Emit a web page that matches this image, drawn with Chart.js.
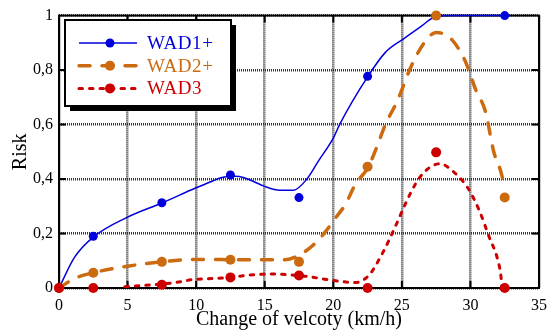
<!DOCTYPE html>
<html>
<head>
<meta charset="utf-8">
<script src="https://cdn.jsdelivr.net/npm/chart.js@4.4.0/dist/chart.umd.min.js"></script>
<style>
  html, body { margin: 0; padding: 0; background: #fff; }
  #wrap { width: 555px; height: 333px; }
</style>
</head>
<body>
<div id="wrap"><canvas id="riskChart" width="555" height="333"></canvas></div>
<script>
// measured points (change of velocity, km/h)
const speeds = [0, 2.5, 7.5, 12.5, 17.5, 22.5, 27.5, 32.5];
const seriesNames = ['WAD1+', 'WAD2+', 'WAD3'];
const wad1Points = [0, 0.19, 0.313, 0.415, 0.332, 0.777, 1.0, 1.0];
const wad2Points = [0, 0.056, 0.096, 0.104, 0.096, 0.445, 1.0, 0.332];
const wad3Points = [0, 0, 0.012, 0.039, 0.046, 0, 0.498, 0];

// fitted curves
const wad1CurveX = [0, 1.15, 2.5, 5, 7.5, 10, 11.2, 11.8, 12.8, 13.5, 14.9, 16.1, 17.1, 18.06, 18.9, 20, 20.45, 22.5, 23.8, 25.1, 26.45, 27.4, 28.85, 32.5];
const wad1CurveY = [0, 0.114, 0.187, 0.26, 0.312, 0.368, 0.393, 0.405, 0.41, 0.405, 0.375, 0.359, 0.359, 0.399, 0.465, 0.55, 0.599, 0.775, 0.865, 0.914, 0.962, 0.995, 1.0, 1.0];
const wad2CurveX = [0, 1.15, 2.5, 5, 7.5, 9.3, 11.2, 12.5, 14.5, 16.5, 17.3, 18.5, 19.4, 20.2, 20.9, 21.6, 22.5, 23.1, 23.8, 24.7, 25.6, 26.57, 27.5, 28.6, 29.6, 30.4, 31.1, 31.7, 32.2, 32.45];
const wad2CurveY = [0, 0.035, 0.056, 0.08, 0.096, 0.104, 0.105, 0.104, 0.104, 0.104, 0.115, 0.156, 0.205, 0.26, 0.308, 0.38, 0.44, 0.508, 0.6, 0.69, 0.805, 0.896, 0.938, 0.914, 0.835, 0.726, 0.647, 0.5, 0.43, 0.38];
const wad3CurveX = [4.8, 6.67, 8.35, 9.78, 11.2, 12.5, 13.74, 15.66, 17.1, 18.2, 19.26, 20.7, 21.6, 22.6, 23.57, 24.5, 25.25, 25.97, 26.7, 27.77, 28.85, 29.8, 30.65, 31.37, 31.97, 32.2, 32.3];
const wad3CurveY = [0.005, 0.011, 0.019, 0.031, 0.035, 0.039, 0.047, 0.051, 0.047, 0.042, 0.033, 0.023, 0.02, 0.047, 0.126, 0.223, 0.308, 0.38, 0.429, 0.456, 0.423, 0.368, 0.284, 0.187, 0.108, 0.053, 0.005];

const xTickLabels = ['0', '5', '10', '15', '20', '25', '30', '35'];
const yTickLabels = ['0', '0,2', '0,4', '0,6', '0,8', '1'];

const colors = ['#0000dd', '#cc6a10', '#cc0000'];
const dashes = [[], [11, 12], [3.5, 7]];
const widths = [1.5, 3.5, 3];

const toXY = (xs, ys) => xs.map((x, i) => ({ x: x, y: ys[i] }));
const pointSets = [wad1Points, wad2Points, wad3Points];
const curveSets = [[wad1CurveX, wad1CurveY], [wad2CurveX, wad2CurveY], [wad3CurveX, wad3CurveY]];

const datasets = [];
seriesNames.forEach((name, i) => {
  datasets.push({
    label: name,
    data: toXY(speeds, pointSets[i]),
    showLine: false,
    pointRadius: i === 0 ? 4.5 : 5,
    pointBackgroundColor: colors[i],
    pointBorderWidth: 0,
    clip: false,
    order: 2 - i
  });
  datasets.push({
    label: name + ' fit',
    data: toXY(curveSets[i][0], curveSets[i][1]),
    showLine: true,
    borderColor: colors[i],
    borderWidth: widths[i],
    borderDash: dashes[i],
    borderCapStyle: i === 0 ? 'butt' : 'round',
    pointRadius: 0,
    cubicInterpolationMode: 'monotone',
    fill: false,
    clip: false,
    order: 5 - i
  });
});

// black frame with inward tick marks
const frameTicks = {
  id: 'frameTicks',
  beforeDatasetsDraw(chart) {
    const { ctx, chartArea: a, scales: { x, y } } = chart;
    const len = 7;
    ctx.save();
    ctx.strokeStyle = '#000';
    ctx.lineWidth = 2;
    ctx.setLineDash([]);
    ctx.strokeRect(a.left, a.top, a.right - a.left, a.bottom - a.top);
    ctx.beginPath();
    x.ticks.forEach(t => {
      const px = x.getPixelForValue(t.value);
      if (px <= a.left + 1 || px >= a.right - 1) return;
      ctx.moveTo(px, a.bottom); ctx.lineTo(px, a.bottom - len);
      ctx.moveTo(px, a.top); ctx.lineTo(px, a.top + len);
    });
    y.ticks.forEach(t => {
      const py = y.getPixelForValue(t.value);
      if (py <= a.top + 1 || py >= a.bottom - 1) return;
      ctx.moveTo(a.left, py); ctx.lineTo(a.left + len, py);
      ctx.moveTo(a.right, py); ctx.lineTo(a.right - len, py);
    });
    ctx.stroke();
    ctx.restore();
  }
};

// boxed legend with drop shadow inside the plot
const boxLegend = {
  id: 'boxLegend',
  afterDraw(chart) {
    const ctx = chart.ctx;
    const bx = 65, by = 20, bw = 166, bh = 86;
    ctx.save();
    ctx.fillStyle = '#000';
    ctx.fillRect(bx + 5, by + 5, bw, bh);
    ctx.fillStyle = '#fff';
    ctx.fillRect(bx, by, bw, bh);
    ctx.lineWidth = 2;
    ctx.strokeStyle = '#000';
    ctx.strokeRect(bx, by, bw, bh);
    seriesNames.forEach((name, i) => {
      const marks = chart.data.datasets[i * 2];
      const fit = chart.data.datasets[i * 2 + 1];
      const ly = 43 + i * 22.7;
      ctx.beginPath();
      ctx.setLineDash(fit.borderDash);
      ctx.lineWidth = fit.borderWidth;
      ctx.lineCap = fit.borderCapStyle;
      ctx.strokeStyle = fit.borderColor;
      ctx.moveTo(79, ly);
      ctx.lineTo(137, ly);
      ctx.stroke();
      ctx.setLineDash([]);
      ctx.beginPath();
      ctx.fillStyle = marks.pointBackgroundColor;
      ctx.arc(110, ly, marks.pointRadius, 0, Math.PI * 2);
      ctx.fill();
      ctx.font = '19px "Liberation Serif"';
      ctx.letterSpacing = '0.6px';
      ctx.textBaseline = 'middle';
      ctx.textAlign = 'left';
      ctx.fillText(name, 147, ly + 1);
    });
    ctx.restore();
  }
};

const serif = '"Liberation Serif", "Times New Roman", serif';

new Chart(document.getElementById('riskChart').getContext('2d'), {
  type: 'scatter',
  data: { datasets: datasets },
  options: {
    responsive: false,
    animation: false,
    devicePixelRatio: 1,
    layout: { padding: { left: 4, right: 8, top: 13, bottom: 0 } },
    plugins: { legend: { display: false }, tooltip: { enabled: false } },
    scales: {
      x: {
        type: 'linear',
        min: 0,
        max: 35,
        ticks: {
          stepSize: 5,
          color: '#000',
          padding: 8,
          font: { family: serif, size: 16 },
          callback: (v, i) => xTickLabels[i]
        },
        grid: { color: '#333', lineWidth: 2.5, drawTicks: false },
        border: { display: false, dash: [1, 1] },
        title: {
          display: true,
          text: 'Change of velcoty (km/h)',
          color: '#000',
          font: { family: serif, size: 20 },
          padding: { top: 0, bottom: 1 }
        },
        afterFit: s => { s.height = 45; }
      },
      y: {
        min: 0,
        max: 1,
        ticks: {
          stepSize: 0.2,
          color: '#000',
          padding: 6,
          font: { family: serif, size: 16 },
          callback: (v, i) => yTickLabels[i]
        },
        grid: { color: '#333', lineWidth: 2.5, drawTicks: false },
        border: { display: false, dash: [1, 1] },
        title: {
          display: true,
          text: 'Risk',
          color: '#000',
          font: { family: serif, size: 20 },
          padding: { top: 5, bottom: 0 }
        },
        afterFit: s => { s.width = 55; }
      }
    }
  },
  plugins: [frameTicks, boxLegend]
});
</script>
</body>
</html>
